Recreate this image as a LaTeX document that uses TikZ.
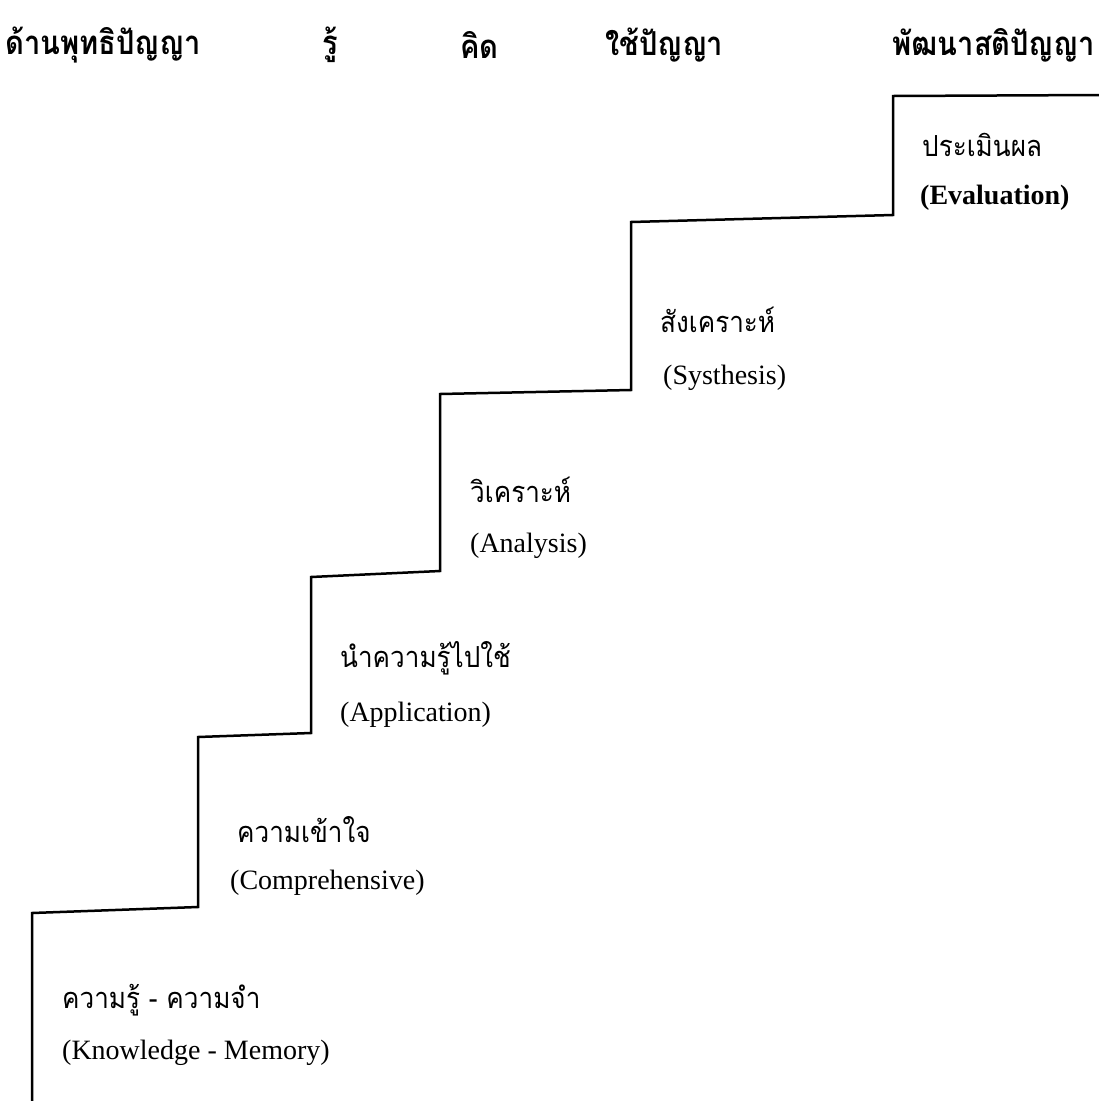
\documentclass[tikz,border=0pt]{standalone}
\usepackage{fontspec}
\setmainfont{Liberation Serif}
\newfontfamily\thaifont[Script=Thai, FakeStretch=0.9]{Loma}
\newfontfamily\thaihead[Script=Thai, FakeStretch=0.88]{Loma}
\usepackage{tikz}

\begin{document}
\begin{tikzpicture}[
            x=1pt, y=1pt,
            every node/.style={inner sep=0pt, anchor=west},
            head/.style={font=\thaihead\bfseries\fontsize{33}{36}\selectfont},
            thlabel/.style={font=\thaifont\fontsize{29}{32}\selectfont},
            enlabel/.style={font=\fontsize{28}{32}\selectfont},
            stair/.style={draw, line width=2.5pt, line join=miter}
        ]
        \useasboundingbox (0,0) rectangle (1099,-1101);
        % heading row
        \node[head] (head side) at (5,-45) {ด้านพุทธิปัญญา};
        \node[head] (head know) at (322,-45) {รู้};
        \node[head] (head think) at (460,-45) {คิด};
        \node[head] (head use) at (605,-45) {ใช้ปัญญา};
        \node[head, anchor=east] (head grow) at (1095,-45) {พัฒนาสติปัญญา};
        % steps
        \node[thlabel] (memory th) at (62,-1000) {ความรู้ - ความจำ};
        \node[enlabel] (memory en) at (62,-1053) {(Knowledge - Memory)};
        \node[thlabel] (compre th) at (237,-830) {ความเข้าใจ};
        \node[enlabel] (compre en) at (230,-883) {(Comprehensive)};
        \node[thlabel] (apply th) at (340,-658) {นำความรู้ไปใช้};
        \node[enlabel] (apply en) at (340,-715) {(Application)};
        \node[thlabel] (analyse th) at (470,-490) {วิเคราะห์};
        \node[enlabel] (analyse en) at (470,-546) {(Analysis)};
        \node[thlabel] (synth th) at (660,-320) {สังเคราะห์};
        \node[enlabel] (synth en) at (663,-378) {(Systhesis)};
        \node[thlabel] (eval th) at (922,-145) {ประเมินผล};
        \node[enlabel, font=\bfseries\fontsize{28}{32}\selectfont] (eval en) at (920,-198) {(Evaluation)};
        % stair line
        \coordinate (c0) at (32,-1101);
        \coordinate (c1) at (32,-913);
        \coordinate (c2) at (198,-907);
        \coordinate (c3) at (198,-737);
        \coordinate (c4) at (311,-733);
        \coordinate (c5) at (311,-577);
        \coordinate (c6) at (440,-571);
        \coordinate (c7) at (440,-394);
        \coordinate (c8) at (631,-390);
        \coordinate (c9) at (631,-222);
        \coordinate (c10) at (893,-215);
        \coordinate (c11) at (893,-96);
        \coordinate (c12) at (1099,-95);
        \draw[stair] (c0) -- (c1) -- (c2) -- (c3) -- (c4) -- (c5) -- (c6)
            -- (c7) -- (c8) -- (c9) -- (c10) -- (c11) -- (c12);
    \end{tikzpicture}
\end{document}
